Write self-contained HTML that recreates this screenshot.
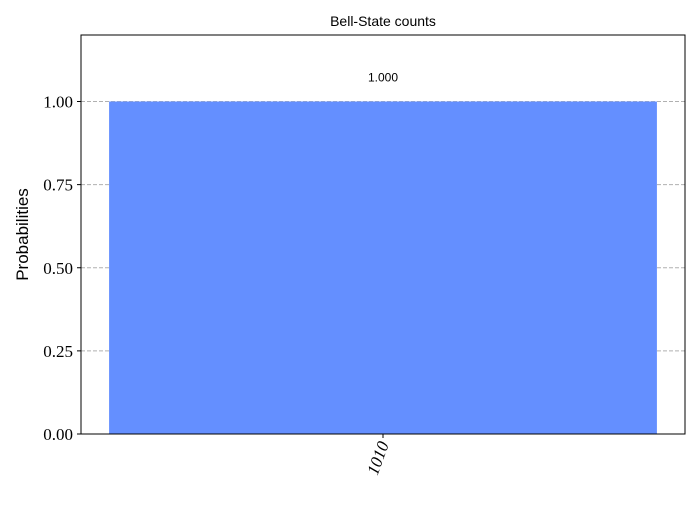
<!DOCTYPE html>
<html><head><meta charset="utf-8"><style>
body{margin:0;background:#fff}
svg text{fill:#000}
</style></head><body>
<svg id="c" width="700" height="500" xmlns="http://www.w3.org/2000/svg">
<rect width="700" height="500" fill="#fff"/>
<g id="g"></g>
</svg>
<script>
const categories=["1010"];
const values=[1.0];
const valueLabels=["1.000"];
const yTicks=[0,0.25,0.5,0.75,1.0];
const yTickLabels=["0.00","0.25","0.50","0.75","1.00"];
const L=81,R=685,T=35,B=434,yMax=1.2;
const y=v=>B-(v/yMax)*(B-T);
const n=categories.length;
const slot=(R-L)/n;
const x=i=>L+slot*(i+0.5);
const ns="http://www.w3.org/2000/svg";
const g=document.getElementById('g');
function mk(t,a,p){const e=document.createElementNS(ns,t);for(const k in a)e.setAttribute(k,a[k]);(p||g).appendChild(e);return e;}
yTicks.forEach((t,i)=>{
  if(t>0){const ln=mk('line',{x1:L,x2:R,y1:y(t),y2:y(t),stroke:'#b0b0b0','stroke-dasharray':'4,2','stroke-width':1});
  
  }
  const tk=mk('line',{x1:L-4,x2:L,y1:y(t),y2:y(t),stroke:'#000'});
  
  
  const tx=mk('text',{x:L-8,y:y(t)+6,'text-anchor':'end','font-family':'Liberation Serif, serif','font-size':17});
  tx.textContent=yTickLabels[i];
  
  
});
const bw=slot*0.907;
values.forEach((v,i)=>{
  const r=mk('rect',{x:x(i)-bw/2,y:y(v),width:bw,height:B-y(v),fill:'#648fff'});
  
  
  const vl=mk('text',{x:x(i),y:y(v)-20,'text-anchor':'middle','font-family':'Liberation Sans, sans-serif','font-size':12});
  vl.textContent=valueLabels[i];
  
  
  const tk=mk('line',{x1:x(i),x2:x(i),y1:B,y2:B+4,stroke:'#000'});
  
  
  const xl=mk('text',{x:0,y:0,'text-anchor':'end','font-family':'Liberation Serif, serif','font-size':17,'font-style':'italic',transform:`translate(${x(i)+6},${B+10}) rotate(-70)`});
  xl.textContent=categories[i];
  
  
});
const fr=mk('rect',{x:L,y:T,width:R-L,height:B-T,fill:'none',stroke:'#000','stroke-width':1});


const ti=mk('text',{x:(L+R)/2,y:26,'text-anchor':'middle','font-family':'Liberation Sans, sans-serif','font-size':14});
ti.textContent='Bell-State counts';


const yl=mk('text',{x:0,y:0,'text-anchor':'middle','font-family':'Liberation Sans, sans-serif','font-size':17,transform:`translate(28,${(T+B)/2}) rotate(-90)`});
yl.textContent='Probabilities';


</script>
</body></html>
